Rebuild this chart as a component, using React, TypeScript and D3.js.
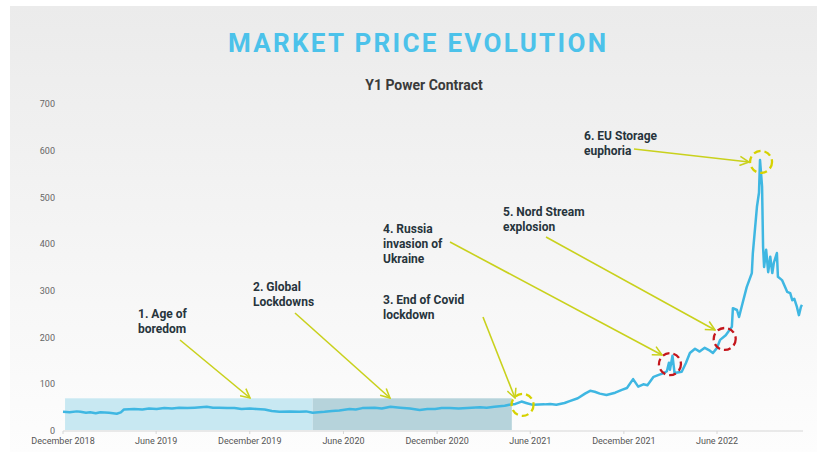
import React from "react";
import * as d3 from "d3";

const W = 829;
const H = 452;

const seriesDates = [
  "2018-12-01","2018-12-14","2018-12-28","2019-01-04","2019-01-15","2019-01-23","2019-02-03","2019-02-12","2019-03-01","2019-03-16","2019-03-24","2019-03-30",
  "2019-04-19","2019-05-05","2019-05-18","2019-06-02","2019-06-17","2019-07-02","2019-07-16","2019-08-01","2019-08-15","2019-09-08","2019-09-20","2019-10-02","2019-10-18","2019-11-01","2019-11-15","2019-12-01",
  "2019-12-14","2019-12-30","2020-01-13","2020-01-28","2020-02-17","2020-03-07","2020-03-20","2020-04-02","2020-04-25","2020-05-10","2020-05-24",
  "2020-06-13","2020-06-25","2020-07-08","2020-08-01","2020-08-15","2020-09-01","2020-09-20","2020-10-09","2020-10-28","2020-11-12","2020-11-27","2020-12-10","2020-12-26",
  "2021-01-12","2021-01-29","2021-02-23","2021-03-08","2021-03-23","2021-04-12","2021-04-21","2021-05-03","2021-05-15","2021-05-24","2021-06-06",
  "2021-06-29","2021-07-10","2021-07-22","2021-08-07","2021-08-17","2021-09-02","2021-09-16","2021-09-26","2021-10-05","2021-10-15",
  "2021-10-28","2021-11-14","2021-11-27","2021-12-07","2021-12-19","2021-12-29","2022-01-08","2022-01-16","2022-01-28",
  "2022-02-07","2022-02-17","2022-02-23","2022-02-27","2022-03-01","2022-03-06","2022-03-10","2022-03-24","2022-04-01",
  "2022-04-09","2022-04-19","2022-04-28","2022-05-08","2022-05-18","2022-05-24","2022-06-01","2022-06-07","2022-06-18",
  "2022-06-30","2022-07-02","2022-07-10","2022-07-14","2022-07-21","2022-07-29","2022-08-08","2022-08-10","2022-08-18",
  "2022-08-22","2022-08-24","2022-08-28","2022-08-30","2022-09-01","2022-09-05","2022-09-09","2022-09-13","2022-09-17",
  "2022-09-20","2022-09-26","2022-09-28","2022-10-06","2022-10-12","2022-10-16","2022-10-22","2022-10-26","2022-10-30",
  "2022-11-04","2022-11-08","2022-11-12","2022-11-14"
];
const seriesValues = [
  41,40,42,41,39,40,38,40,39,37,40,46,
  47,46,48,47,49,48,50,49,50,52,50,50,49,49,47,48,
  47,46,43,41,42,41,42,39,41,43,44,
  47,46,49,50,48,52,50,48,45,47,47,49,49,
  48,49,51,50,52,54,56,58,63,60,56,
  57,58,56,60,64,70,80,86,84,80,
  77,82,88,92,111,95,100,98,116,
  120,124,128,146,131,161,124,127,145,
  167,176,170,178,172,167,178,195,205,
  223,263,259,244,274,308,338,381,480,
  510,580,523,394,351,388,340,373,338,
  360,381,330,323,308,298,295,280,283,
  266,248,266,270
];

const yTicks = [0, 100, 200, 300, 400, 500, 600, 700];
const xTickDates = ["2018-12-01","2019-06-01","2019-12-01","2020-06-01","2020-12-01","2021-06-01","2021-12-01","2022-06-01"];
const xTickLabels = ["December 2018","June 2019","December 2019","June 2020","December 2020","June 2021","December 2021","June 2022"];

const periodStarts = ["2018-12-05", "2020-04-02"];
const periodEnds = ["2020-04-02", "2021-04-26"];
const periodTop = 70;
const periodBottom = 2;
const periodColors = ["#c8e8f2", "#b6d3db"];

const highlightDates = ["2021-05-17", "2022-03-01", "2022-06-16", "2022-08-26"];
const highlightValues = [56, 143, 197, 576];
const highlightColors = ["#d6d200", "#c4161c", "#c4161c", "#d6d200"];

const annotationLines = [
  ["1. Age of", "boredom"],
  ["2. Global", "Lockdowns"],
  ["3. End of Covid", "lockdown"],
  ["4. Russia", "invasion of", "Ukraine"],
  ["5. Nord Stream", "explosion"],
  ["6. EU Storage", "euphoria"],
];
// layout (pixels): text anchor, arrow start, arrow end
const annTextPos = [[138, 318], [253, 291], [383, 304], [383, 233], [503, 216], [584, 140]];
const annArrows = [
  [180, 340, 250, 398],
  [295, 313, 390, 398],
  [483, 317, 515, 398],
  [450, 242, 662, 355],
  [546, 237, 715, 330],
  [634, 149, 749, 162],
];

const parse = d3.timeParse("%Y-%m-%d");

export default function App() {
  const x = d3.scaleTime()
    .domain([parse("2018-12-01")!, parse("2022-11-16")!])
    .range([63, 803]);
  const y = d3.scaleLinear().domain([0, 700]).range([431, 104]);

  const data = seriesDates.map((d, i) => ({ date: parse(d)!, value: seriesValues[i] }));
  const line = d3.line<{ date: Date; value: number }>()
    .x((d) => x(d.date))
    .y((d) => y(d.value))
    .curve(d3.curveLinear);

  const narrow = "'Liberation Sans Narrow', 'Roboto', sans-serif";

  return (
    <div style={{ position: "absolute", left: 0, top: 0 }}>
      <svg width={W} height={H} style={{ display: "block" }}>
        <defs>
          <linearGradient id="bg" x1="0" y1="0" x2="0" y2="1">
            <stop offset="0" stopColor="#ebebeb" />
            <stop offset="1" stopColor="#fdfdfd" />
          </linearGradient>
          <marker id="arrow" viewBox="0 0 12 12" refX="11" refY="6" markerWidth="11" markerHeight="11" orient="auto" markerUnits="userSpaceOnUse">
            <path d="M1,1 L11,6 L1,11" fill="none" stroke="#c9d11c" strokeWidth="1.7" />
          </marker>
        </defs>
        <rect x={0} y={0} width={W} height={H} fill="#ffffff" />
        <rect x={10} y={6} width={807} height={446} fill="url(#bg)" />

        <text x={417} y={52} textAnchor="middle" fill="#4cc2ea" fontFamily={narrow} fontWeight="bold" fontSize={26}
          textLength={378} lengthAdjust="spacing">MARKET PRICE EVOLUTION</text>
        <text x={424} y={90} textAnchor="middle" fill="#3a3a3a" fontFamily={narrow} fontWeight="bold" fontSize={14}>Y1 Power Contract</text>

        {periodStarts.map((s, i) => (
          <rect key={"p" + i}
            x={x(parse(s)!)} y={y(periodTop)}
            width={x(parse(periodEnds[i])!) - x(parse(s)!)}
            height={y(periodBottom) - y(periodTop)}
            fill={periodColors[i]} />
        ))}

        {yTicks.map((t) => (
          <text key={"y" + t} x={55} y={y(t)} dy="0.35em" textAnchor="end" fill="#666" fontFamily={narrow} fontSize={9}>{t}</text>
        ))}

        <line x1={63} x2={803} y1={y(0)} y2={y(0)} stroke="#d6d6d6" strokeWidth={1} />
        {xTickDates.map((d, i) => (
          <g key={"x" + i} transform={`translate(${x(parse(d)!)},${y(0)})`}>
            <line y1={0} y2={3} stroke="#d6d6d6" />
            <text y={13} textAnchor="middle" fill="#555" fontFamily={narrow} fontSize={9}>{xTickLabels[i]}</text>
          </g>
        ))}

        <path d={line(data) || ""} fill="none" stroke="#3fb7e2" strokeWidth={2.5} strokeLinejoin="round" />

        {highlightDates.map((d, i) => (
          <circle key={"c" + i} cx={x(parse(d)!)} cy={y(highlightValues[i])} r={11}
            fill="none" stroke={highlightColors[i]} strokeWidth={2.3} strokeDasharray="7,4" />
        ))}

        {annArrows.map((a, i) => (
          <line key={"a" + i} x1={a[0]} y1={a[1]} x2={a[2]} y2={a[3]} stroke="#c9d11c" strokeWidth={1.6} markerEnd="url(#arrow)" />
        ))}

        {annotationLines.map((lines, i) => (
          <text key={"t" + i} x={annTextPos[i][0]} y={annTextPos[i][1]} fill="#27343c" fontFamily={narrow} fontWeight="bold" fontSize={12}>
            {lines.map((l, j) => (
              <tspan key={j} x={annTextPos[i][0]} dy={j === 0 ? 0 : 15}>{l}</tspan>
            ))}
          </text>
        ))}
      </svg>
    </div>
  );
}
